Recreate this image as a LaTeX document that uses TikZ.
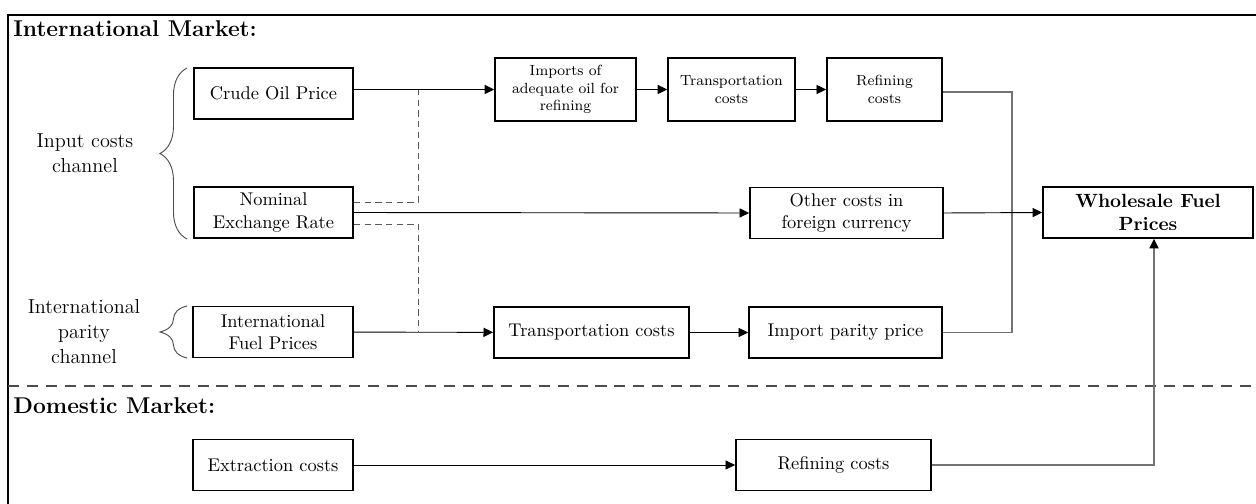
\documentclass[tikz,border=0pt]{standalone}
\usetikzlibrary{arrows.meta,calc,decorations.pathreplacing}

\begin{document}
\begin{tikzpicture}[x=0.5435pt,y=-0.5435pt,
  box/.style={draw,line width=1pt,align=center,inner sep=2pt,minimum height=27.7pt},
  smallbox/.style={box,font=\footnotesize,minimum height=34.2pt},
  arr/.style={-{Triangle[length=5.2pt,width=5pt,color=black]},line width=0.5pt},
  grayline/.style={black!55,line width=0.6pt},
  dashline/.style={black!65,line width=0.5pt,dash pattern=on 3.4pt off 2.4pt},
  chan/.style={align=center,font=\fontsize{11}{13.6}\selectfont},
  bracket/.style={decorate,decoration={brace,amplitude=14.7pt},black!70,line width=0.5pt},
  market/.style={anchor=base west,inner sep=0pt,font=\fontsize{12.4}{15}\selectfont\bfseries}]
  \useasboundingbox (0,0) rectangle (1256,504);

  \draw[line width=0.9pt] (1256,15) -- (8,15) -- (8,504);
  \draw[black!70,line width=1.6pt,dash pattern=on 6pt off 4.3pt] (8,386) -- (1256,386);
  \node[market] (intmkt) at (13,37) {International Market:};
  \node[market] (dommkt) at (13,413) {Domestic Market:};

  \node[box,minimum width=86.4pt] (crude) at (273.5,93.5) {Crude Oil Price};
  \node[box,minimum width=86.4pt] (nominal) at (273.5,212.5) {Nominal\\Exchange Rate};
  \node[box,minimum width=87pt] (intl) at (273,332) {International\\Fuel Prices};
  \node[box,minimum width=87pt] (extract) at (273,465) {Extraction costs};

  \node[smallbox,minimum width=76.6pt] (imports) at (565.5,89.5) {Imports of\\adequate oil for\\refining};
  \node[smallbox,minimum width=69pt] (transtop) at (731.5,89.5) {Transportation\\costs};
  \node[smallbox,minimum width=62.5pt] (refintop) at (884.5,89.5) {Refining\\costs};
  \node[box,minimum width=104.9pt] (other) at (846.5,213) {Other costs in\\foreign currency};
  \node[box,minimum width=106pt] (transmid) at (591.5,332.5) {Transportation costs};
  \node[box,minimum width=104.9pt] (parity) at (845.5,332.5) {Import parity price};
  \node[box,minimum width=106pt] (refinbot) at (833.5,465) {Refining costs};
  \node[box,minimum width=114.1pt,font=\fontsize{10.4}{12.4}\selectfont\bfseries] (whole) at (1148,212.5) {Wholesale Fuel\\Prices};

  \node[chan] (inputlbl) at (85,153) {Input costs\\channel};
  \node[chan] (paritylbl) at (84,332) {International\\parity\\channel};
  \draw[bracket] (187,239) -- (187,68);
  \draw[bracket] (187,358) -- (187,306);

  \coordinate (jup) at (418,89.5);
  \coordinate (jdn) at (418,332);
  \coordinate (bus) at (1012,92);
  \draw[dashline] ($(nominal.east)+(0,-10.5)$) -| (jup);
  \draw[dashline] ($(nominal.east)+(0,11.5)$) -| (jdn);

  \draw[arr] (crude.east |- imports.west) -- (imports.west);
  \draw[arr] (imports) -- (transtop);
  \draw[arr] (transtop) -- (refintop);
  \draw[arr] (nominal.east) -- (other.west);
  \draw[arr] (intl) -- (transmid);
  \draw[arr] (transmid) -- (parity);
  \draw[arr] (extract) -- (refinbot);

  \draw[grayline] (refintop.east |- bus) -- (bus) |- (parity.east);
  \draw[arr] (other.east) -- (whole.west);
  \draw[arr,grayline] (refinbot.east) -| ($(whole.south)+(6,0)$);
\end{tikzpicture}
\end{document}
